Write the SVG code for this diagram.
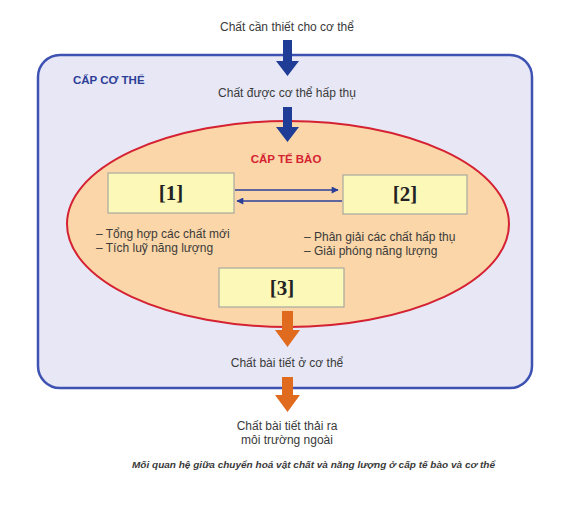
<svg xmlns="http://www.w3.org/2000/svg" width="584" height="513" viewBox="0 0 584 513">
<defs>
<style>
.t{font-family:"Liberation Sans",Arial,sans-serif;font-size:12px;fill:#3a3a3a}
.lbl{font-family:"Liberation Serif","Times New Roman",serif;font-size:21px;font-weight:bold;fill:#222;text-anchor:middle}
.box{fill:#fcf8b8;stroke:#a9a9a0;stroke-width:1.2}
.blue{fill:#1f3c96}
.org{fill:#e06a1e}
.ln{stroke:#2b3f9a;stroke-width:1.6;fill:none}
</style>
<marker id="ah" viewBox="0 0 10 10" refX="9" refY="5" markerWidth="8" markerHeight="7" orient="auto-start-reverse" markerUnits="userSpaceOnUse">
<path d="M0,0 L10,5 L0,10 z" fill="#2b3f9a"/>
</marker>
</defs>
<rect width="584" height="513" fill="#ffffff"/>
<g id="co-the">
<rect x="38" y="55" width="494" height="333" rx="22" ry="22" fill="#e7e7f5" stroke="#3d52b2" stroke-width="2.5"/>
<text x="73" y="84" style="font-family:'Liberation Sans',Arial,sans-serif;font-size:11.5px;font-weight:bold;fill:#2c3f98">CẤP CƠ THỂ</text>
</g>
<g id="te-bao">
<ellipse cx="288" cy="224" rx="221" ry="103" fill="#fbd6a8" stroke="#d52232" stroke-width="2"/>
<text x="286" y="163" text-anchor="middle" style="font-family:'Liberation Sans',Arial,sans-serif;font-size:11.5px;font-weight:bold;fill:#d52232">CẤP TẾ BÀO</text>
</g>
<g id="node1">
<rect class="box" x="108" y="173" width="126" height="40"/>
<text class="lbl" x="171" y="200">[1]</text>
<text class="t" x="96" y="238">– Tổng hợp các chất mới</text>
<text class="t" x="96" y="252">– Tích luỹ năng lượng</text>
</g>
<g id="node2">
<rect class="box" x="343" y="175" width="124" height="39"/>
<text class="lbl" x="405" y="201">[2]</text>
<text class="t" x="304" y="241">– Phân giải các chất hấp thụ</text>
<text class="t" x="304" y="255">– Giải phóng năng lượng</text>
</g>
<g id="node3">
<rect class="box" x="219" y="268" width="125" height="39"/>
<text class="lbl" x="282" y="295">[3]</text>
</g>
<g id="texts">
<text class="t" x="287" y="31" text-anchor="middle">Chất cần thiết cho cơ thể</text>
<text class="t" x="287" y="97" text-anchor="middle">Chất được cơ thể hấp thụ</text>
<text class="t" x="287" y="367" text-anchor="middle">Chất bài tiết ở cơ thể</text>
<text class="t" x="287" y="430" text-anchor="middle">Chất bài tiết thải ra</text>
<text class="t" x="287" y="444" text-anchor="middle">môi trường ngoài</text>
<text x="132" y="468" textLength="363" lengthAdjust="spacingAndGlyphs" style="font-family:'Liberation Sans',Arial,sans-serif;font-size:9.5px;font-style:italic;font-weight:bold;fill:#3a3a3a">Mối quan hệ giữa chuyển hoá vật chất và năng lượng ở cấp tế bào và cơ thể</text>
</g>
<g id="connectors">
<path class="blue" d="M283,40 H292 V61 H299 L287.5,76 L276,61 H283 Z"/>
<path class="blue" d="M283,107 H292 V127 H299 L287.5,142 L276,127 H283 Z"/>
<path class="org" d="M282,311 H293 V330 H300 L287.5,347 L275,330 H282 Z"/>
<path class="org" d="M282,377 H293 V395 H300 L287.5,412 L275,395 H282 Z"/>
<line class="ln" x1="235" y1="190" x2="338" y2="190" marker-end="url(#ah)"/>
<line class="ln" x1="342" y1="201" x2="237" y2="201" marker-end="url(#ah)"/>
</g>
</svg>
